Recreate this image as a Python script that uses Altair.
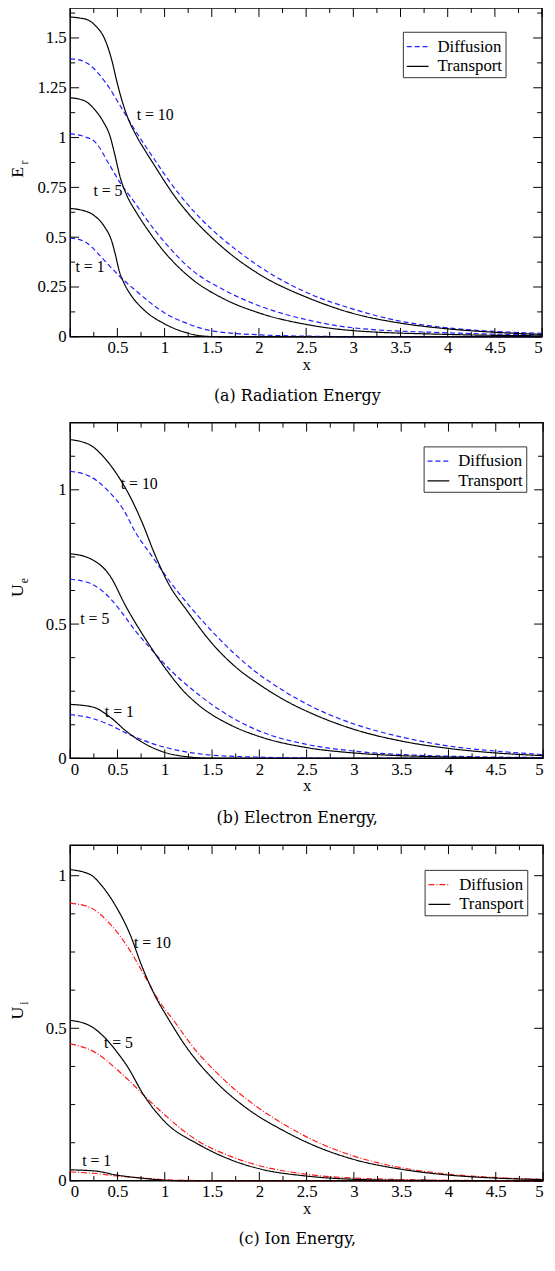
import altair as alt
import pandas as pd

# ---------------- Panel (a): Radiation energy E_r ----------------
er_tr1_x = [0, 0.1, 0.25, 0.36, 0.44, 0.48, 0.52, 0.57, 0.65, 0.77, 1.0, 1.22, 1.4, 1.6, 2.5, 5.0]
er_tr1_y = [0.644, 0.638, 0.61, 0.555, 0.48, 0.41, 0.33, 0.27, 0.205, 0.14, 0.065, 0.022, 0.004, 0.0, 0.0, 0.0]
er_di1_x = [0, 0.1, 0.18, 0.33, 0.51, 0.7, 1.0, 1.25, 1.5, 2.0, 2.55, 3.0, 5.0]
er_di1_y = [0.495, 0.488, 0.47, 0.40, 0.31, 0.23, 0.12, 0.065, 0.03, 0.01, 0.003, 0.001, 0.0]
er_tr5_x = [0, 0.15, 0.26, 0.35, 0.42, 0.47, 0.53, 0.6, 0.7, 0.81, 1.0, 1.29, 1.63, 2.0, 2.55, 3.0, 4.0, 5.0]
er_tr5_y = [1.2, 1.185, 1.14, 1.08, 1.01, 0.92, 0.8, 0.71, 0.625, 0.545, 0.425, 0.29, 0.19, 0.12, 0.058, 0.031, 0.012, 0.005]
er_di5_x = [0, 0.15, 0.26, 0.42, 0.54, 0.66, 0.8, 1.0, 1.29, 1.63, 2.0, 2.55, 3.0, 4.0, 5.0]
er_di5_y = [1.02, 1.005, 0.98, 0.86, 0.765, 0.69, 0.595, 0.475, 0.335, 0.235, 0.156, 0.081, 0.045, 0.02, 0.01]
er_tr10_x = [0, 0.1, 0.19, 0.26, 0.37, 0.44, 0.49, 0.54, 0.61, 0.7, 0.8, 0.9, 1.0, 1.1, 1.25, 1.44, 1.7, 2.0, 2.55, 3.0, 3.48, 4.0, 4.49, 5.0]
er_tr10_y = [1.605, 1.60, 1.59, 1.565, 1.49, 1.39, 1.29, 1.2, 1.1, 1.01, 0.93, 0.855, 0.78, 0.71, 0.62, 0.525, 0.415, 0.315, 0.19, 0.117, 0.07, 0.04, 0.023, 0.012]
er_di10_x = [0, 0.1, 0.19, 0.37, 0.53, 0.65, 0.8, 0.9, 1.0, 1.14, 1.3, 1.51, 1.75, 2.0, 2.55, 3.0, 3.48, 4.0, 4.5, 5.0]
er_di10_y = [1.395, 1.39, 1.37, 1.28, 1.16, 1.065, 0.955, 0.885, 0.815, 0.725, 0.635, 0.535, 0.44, 0.354, 0.213, 0.139, 0.08, 0.045, 0.027, 0.018]
er_lab_text = ["t = 10", "t = 5", "t = 1"]
er_lab_x = [0.9, 0.4, 0.21]
er_lab_y = [1.115, 0.73, 0.35]

# ---------------- Panel (b): Electron energy U_e ----------------
ue_tr1_x = [0, 0.24, 0.42, 0.6, 0.78, 1.0, 1.26, 1.5, 5.0]
ue_tr1_y = [0.201, 0.191, 0.154, 0.099, 0.056, 0.022, 0.005, 0.0, 0.0]
ue_di1_x = [0, 0.24, 0.42, 0.6, 0.86, 1.15, 1.5, 2.06, 2.6, 3.2, 5.0]
ue_di1_y = [0.163, 0.148, 0.124, 0.093, 0.056, 0.029, 0.012, 0.004, 0.001, 0.0, 0.0]
ue_tr5_x = [0, 0.21, 0.42, 0.59, 0.75, 0.86, 1.0, 1.2, 1.37, 1.69, 2.02, 2.5, 3.0, 4.0, 5.0]
ue_tr5_y = [0.762, 0.744, 0.68, 0.565, 0.47, 0.41, 0.338, 0.25, 0.195, 0.125, 0.079, 0.04, 0.02, 0.005, 0.001]
ue_di5_x = [0, 0.21, 0.42, 0.52, 0.7, 0.86, 1.0, 1.37, 1.69, 2.02, 2.5, 3.0, 4.0, 5.0]
ue_di5_y = [0.667, 0.652, 0.597, 0.555, 0.47, 0.405, 0.35, 0.234, 0.156, 0.099, 0.052, 0.027, 0.008, 0.003]
ue_tr10_x = [0, 0.21, 0.35, 0.49, 0.63, 0.76, 0.9, 1.04, 1.24, 1.51, 1.75, 2.0, 2.24, 2.6, 3.0, 3.52, 4.0, 4.5, 5.0]
ue_tr10_y = [1.187, 1.167, 1.124, 1.06, 0.977, 0.879, 0.755, 0.65, 0.548, 0.424, 0.34, 0.275, 0.222, 0.16, 0.108, 0.063, 0.037, 0.02, 0.01]
ue_di10_x = [0, 0.21, 0.42, 0.56, 0.69, 0.87, 1.04, 1.28, 1.59, 1.95, 2.24, 2.6, 3.0, 3.52, 4.0, 4.5, 5.0]
ue_di10_y = [1.069, 1.05, 0.989, 0.928, 0.842, 0.75, 0.665, 0.56, 0.44, 0.325, 0.255, 0.185, 0.128, 0.078, 0.046, 0.027, 0.014]
ue_lab_text = ["t = 10", "t = 5", "t = 1"]
ue_lab_x = [0.73, 0.26, 0.52]
ue_lab_y = [1.02, 0.52, 0.173]

# ---------------- Panel (c): Ion energy U_i ----------------
ui_tr1_x = [0, 0.27, 0.49, 0.78, 1.0, 1.2, 5.0]
ui_tr1_y = [0.036, 0.032, 0.019, 0.008, 0.002, 0.0, 0.0]
ui_di1_x = [0, 0.27, 0.49, 0.78, 1.0, 1.36, 2.0, 5.0]
ui_di1_y = [0.029, 0.024, 0.016, 0.009, 0.004, 0.001, 0.0, 0.0]
ui_tr5_x = [0, 0.21, 0.38, 0.5, 0.6, 0.78, 1.0, 1.36, 1.69, 2.02, 2.49, 3.0, 3.5, 4.0, 5.0]
ui_tr5_y = [0.526, 0.508, 0.465, 0.42, 0.377, 0.28, 0.194, 0.119, 0.07, 0.038, 0.016, 0.005, 0.002, 0.001, 0.0]
ui_di5_x = [0, 0.27, 0.49, 0.71, 0.78, 1.0, 1.36, 1.69, 2.02, 2.49, 3.0, 4.0, 5.0]
ui_di5_y = [0.449, 0.42, 0.366, 0.302, 0.28, 0.216, 0.129, 0.081, 0.048, 0.022, 0.009, 0.002, 0.0]
ui_tr10_x = [0, 0.21, 0.35, 0.49, 0.63, 0.76, 0.9, 1.04, 1.22, 1.51, 1.87, 2.24, 2.6, 3.0, 3.5, 4.0, 4.5, 5.0]
ui_tr10_y = [1.02, 1.004, 0.961, 0.896, 0.81, 0.702, 0.605, 0.53, 0.442, 0.334, 0.237, 0.167, 0.113, 0.07, 0.038, 0.019, 0.009, 0.004]
ui_di10_x = [0, 0.21, 0.42, 0.63, 0.79, 0.93, 1.11, 1.29, 1.58, 1.95, 2.24, 2.6, 3.0, 3.5, 4.0, 4.5, 5.0]
ui_di10_y = [0.91, 0.896, 0.842, 0.756, 0.67, 0.594, 0.519, 0.442, 0.345, 0.248, 0.189, 0.129, 0.081, 0.043, 0.022, 0.011, 0.005]
ui_lab_text = ["t = 10", "t = 5", "t = 1"]
ui_lab_x = [0.87, 0.51, 0.28]
ui_lab_y = [0.78, 0.45, 0.065]

methods = ["Diffusion", "Transport"]
x_major = [0, 0.5, 1, 1.5, 2, 2.5, 3, 3.5, 4, 4.5, 5]
x_minor = [0.25, 0.75, 1.25, 1.75, 2.25, 2.75, 3.25, 3.75, 4.25, 4.75]

FONT = "Liberation Serif"
LABEL = "format(datum.value, '.6~g')"


def curves(items):
    rows = []
    for name, method, xs, ys in items:
        for a, b in zip(xs, ys):
            rows.append({"x": a, "y": b, "method": method, "curve": name})
    return pd.DataFrame(rows)


def panel(df, labels, W, H, ymax, y_major, y_minor, ymain, ysub, title_dx,
          caption, cap_dy, cap_x, colors, dashes, lx, ly, hide_x0):
    xs = alt.Scale(domain=[0, 5], nice=False, zero=False)
    ys = alt.Scale(domain=[0, ymax], nice=False, zero=False)
    label_expr = ("datum.value == 0 ? '' : " + LABEL) if hide_x0 else LABEL
    xaxis = alt.Axis(values=x_major, labelExpr=label_expr, title="x",
                     titleFont=FONT, titleFontSize=17, titleFontWeight="normal",
                     titleColor="black", titlePadding=1, labelPadding=3,
                     labelFont=FONT, labelFontSize=17, labelColor="black",
                     domain=False, ticks=False, grid=False)
    yaxis = alt.Axis(values=y_major, labelExpr=LABEL, title=None, labelPadding=4,
                     labelFont=FONT, labelFontSize=17, labelColor="black",
                     domain=False, ticks=False, grid=False)
    X = alt.X("x:Q", scale=xs, axis=xaxis)
    Y = alt.Y("y:Q", scale=ys, axis=yaxis)
    leg = alt.Legend(title=None, orient="none", legendX=lx, legendY=ly,
                     symbolType="stroke", symbolSize=484, symbolStrokeWidth=1.3,
                     labelFont=FONT, labelFontSize=17, labelColor="black",
                     strokeColor="#333333", fillColor="white", padding=3,
                     labelOffset=8, rowPadding=0, direction="vertical", labelLimit=300)
    lines = alt.Chart(df).mark_line(strokeWidth=1.2, interpolate="monotone").encode(
        x=X, y=Y,
        color=alt.Color("method:N", scale=alt.Scale(domain=methods, range=colors), legend=leg),
        strokeDash=alt.StrokeDash("method:N", scale=alt.Scale(domain=methods, range=dashes), legend=leg),
        detail="curve:N",
    )
    layers = [lines]
    tx_major = pd.DataFrame({"x": x_major})
    tx_minor = pd.DataFrame({"x": x_minor})
    ty_major = pd.DataFrame({"y": y_major})
    ty_minor = pd.DataFrame({"y": y_minor})
    for data, ln in ((tx_major, 9), (tx_minor, 5)):
        base = alt.Chart(data).mark_rule(color="black", strokeWidth=1)
        layers.append(base.encode(x=X, y=alt.value(H), y2=alt.value(H - ln)))
        layers.append(base.encode(x=X, y=alt.value(0), y2=alt.value(ln)))
    for data, ln in ((ty_major, 9), (ty_minor, 5)):
        base = alt.Chart(data).mark_rule(color="black", strokeWidth=1)
        layers.append(base.encode(y=Y, x=alt.value(0), x2=alt.value(ln)))
        layers.append(base.encode(y=Y, x=alt.value(W), x2=alt.value(W - ln)))
    layers.append(alt.Chart(labels).mark_text(font=FONT, fontSize=16, color="black").encode(
        x=X, y=Y, text="label:N"))
    one = pd.DataFrame({"a": [0]})
    layers.append(alt.Chart(one).mark_text(font=FONT, fontSize=18, angle=270, color="black").encode(
        x=alt.value(title_dx), y=alt.value(H / 2), text=alt.value(ymain)))
    layers.append(alt.Chart(one).mark_text(font=FONT, fontSize=12, angle=270, color="black").encode(
        x=alt.value(title_dx + 6), y=alt.value(H / 2 - 10), text=alt.value(ysub)))
    layers.append(alt.Chart(one).mark_text(font="DejaVu Serif", fontSize=16, color="black").encode(
        x=alt.value(cap_x), y=alt.value(H + cap_dy), text=alt.value(caption)))
    return alt.layer(*layers).properties(width=W, height=H)


df_a = curves([
    ("d1", "Diffusion", er_di1_x, er_di1_y), ("t1", "Transport", er_tr1_x, er_tr1_y),
    ("d5", "Diffusion", er_di5_x, er_di5_y), ("t5", "Transport", er_tr5_x, er_tr5_y),
    ("d10", "Diffusion", er_di10_x, er_di10_y), ("t10", "Transport", er_tr10_x, er_tr10_y),
])
df_b = curves([
    ("d1", "Diffusion", ue_di1_x, ue_di1_y), ("t1", "Transport", ue_tr1_x, ue_tr1_y),
    ("d5", "Diffusion", ue_di5_x, ue_di5_y), ("t5", "Transport", ue_tr5_x, ue_tr5_y),
    ("d10", "Diffusion", ue_di10_x, ue_di10_y), ("t10", "Transport", ue_tr10_x, ue_tr10_y),
])
df_c = curves([
    ("d1", "Diffusion", ui_di1_x, ui_di1_y), ("t1", "Transport", ui_tr1_x, ui_tr1_y),
    ("d5", "Diffusion", ui_di5_x, ui_di5_y), ("t5", "Transport", ui_tr5_x, ui_tr5_y),
    ("d10", "Diffusion", ui_di10_x, ui_di10_y), ("t10", "Transport", ui_tr10_x, ui_tr10_y),
])
lab_a = pd.DataFrame({"x": er_lab_x, "y": er_lab_y, "label": er_lab_text})
lab_b = pd.DataFrame({"x": ue_lab_x, "y": ue_lab_y, "label": ue_lab_text})
lab_c = pd.DataFrame({"x": ui_lab_x, "y": ui_lab_y, "label": ui_lab_text})

ya_major = [0, 0.25, 0.5, 0.75, 1, 1.25, 1.5]
ya_minor = [0.125, 0.375, 0.625, 0.875, 1.125, 1.375, 1.625]
yb_major = [0, 0.5, 1]
yb_minor = [0.125, 0.25, 0.375, 0.625, 0.75, 0.875, 1.125]
yc_major = [0, 0.5, 1]
yc_minor = [0.125, 0.25, 0.375, 0.625, 0.75, 0.875]

blue = ["#1f1fff", "black"]
red = ["#ff1a1a", "black"]
dash_b = [[5, 3], [1, 0]]
dash_r = [[6, 2, 1, 2], [1, 0]]

pa = panel(df_a, lab_a, 478, 333, 1.65, ya_major, ya_minor, "E", "r", -53,
           "(a)  Radiation Energy", 60, 230, blue, dash_b, 337, 24, True)
pb = panel(df_b, lab_b, 479, 340, 1.25, yb_major, yb_minor, "U", "e", -53,
           "(b)  Electron Energy,", 61, 230, blue, dash_b, 358, 24, False)
pc = panel(df_c, lab_c, 479, 340, 1.1, yc_major, yc_minor, "U", "i", -53,
           "(c)  Ion Energy,", 59, 230, red, dash_r, 359, 25, False)

chart = alt.vconcat(pa, pb, pc, spacing=16,
                    padding={"top": -10, "left": 0, "right": 0, "bottom": -4}).resolve_scale(
    x="independent", y="independent", color="independent", strokeDash="independent"
).resolve_legend(color="independent", strokeDash="independent").configure_view(
    stroke="black", strokeWidth=1.5
)

chart.save("out.html", embed_options={"renderer": "svg", "actions": False})
